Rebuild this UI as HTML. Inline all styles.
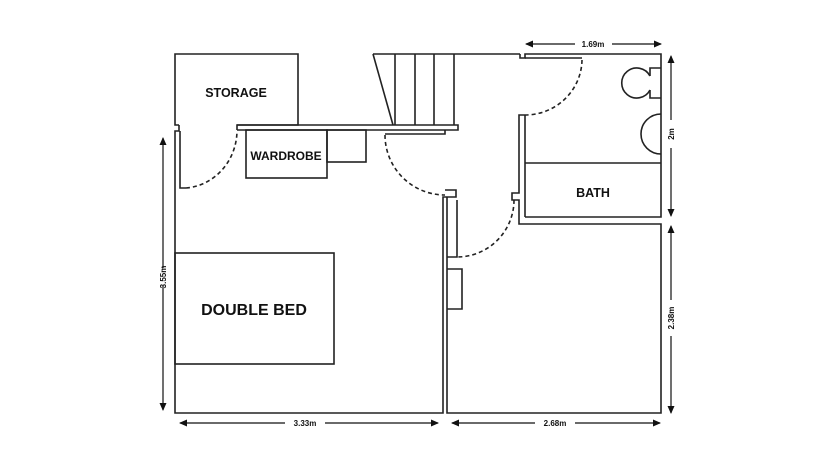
<!DOCTYPE html>
<html><head><style>body{margin:0;background:#fff}svg{display:block}text{font-family:"Liberation Sans",sans-serif;font-weight:bold;fill:#111}</style></head><body>
<svg width="835" height="467" viewBox="0 0 835 467" xmlns="http://www.w3.org/2000/svg">
<defs><marker id="a" markerWidth="8" markerHeight="8" refX="7" refY="4" orient="auto-start-reverse" markerUnits="userSpaceOnUse"><path d="M0,0.5 L8,4 L0,7.5 Z" fill="#111"/></marker></defs>
<g fill="none" stroke="#222" stroke-width="1.6">
<!-- storage -->
<polyline points="179,125 175,125 175,54 298,54 298,125 237,125 237,130"/>
<!-- bedroom outer -->
<polyline points="179,125 179,131 175,131 175,413 443,413 443,197 456,197 456,190 445,190"/>
<polyline points="180,131 180,188 186,188"/>
<path d="M186,188 A55,58 0 0 0 237,131" stroke-dasharray="4,3"/>
<!-- top wall -->
<polyline points="237,130 458,130 458,125 237,125"/>
<polyline points="445,130 445,134 385,134"/>
<path d="M385,135 A60,60 0 0 0 445,195" stroke-dasharray="4,3"/>
<!-- wardrobe -->
<rect x="246" y="130" width="81" height="48"/>
<rect x="327" y="130" width="39" height="32"/>
<!-- stairs -->
<polyline points="373,54 393,125"/>
<line x1="373" y1="54" x2="520" y2="54"/>
<line x1="395" y1="54" x2="395" y2="125"/>
<line x1="415" y1="54" x2="415" y2="125"/>
<line x1="434" y1="54" x2="434" y2="125"/>
<line x1="454" y1="54" x2="454" y2="125"/>
<!-- bathroom -->
<polyline points="520,54 520,58 525,58 525,54 661,54 661,217 525,217"/>
<line x1="525" y1="58" x2="582" y2="58"/>
<path d="M582,60 A57,56 0 0 1 525,115" stroke-dasharray="4,3"/>
<polyline points="525,115 519,115 519,193 512,193 512,200 519,200 519,224 661,224 661,413 447,413 447,197"/>
<line x1="525" y1="115" x2="525" y2="217"/>
<line x1="525" y1="163" x2="661" y2="163"/>
<path d="M514,200 A57,57 0 0 1 457,257" stroke-dasharray="4,3"/>
<polyline points="457,200 457,257 447,257"/>
<polyline points="447,269 462,269 462,309 447,309"/>
<!-- toilet -->
<path d="M650,90 A15,15 0 1 1 650,76" />
<polyline points="650,76 650,68 661,68"/>
<polyline points="650,90 650,98 661,98"/>
<path d="M661,114 A20,20 0 0 0 661,154"/>
<!-- bed -->
<rect x="175" y="253" width="159" height="111"/>
</g>
<g stroke="#111" stroke-width="1.2" fill="none">
<line x1="163" y1="268" x2="163" y2="138" marker-end="url(#a)"/>
<line x1="163" y1="286" x2="163" y2="410" marker-end="url(#a)"/>
<line x1="285" y1="423" x2="180" y2="423" marker-end="url(#a)"/>
<line x1="325" y1="423" x2="438" y2="423" marker-end="url(#a)"/>
<line x1="535" y1="423" x2="452" y2="423" marker-end="url(#a)"/>
<line x1="575" y1="423" x2="660" y2="423" marker-end="url(#a)"/>
<line x1="575" y1="44" x2="526" y2="44" marker-end="url(#a)"/>
<line x1="612" y1="44" x2="661" y2="44" marker-end="url(#a)"/>
<line x1="671" y1="120" x2="671" y2="56" marker-end="url(#a)"/>
<line x1="671" y1="148" x2="671" y2="216" marker-end="url(#a)"/>
<line x1="671" y1="300" x2="671" y2="226" marker-end="url(#a)"/>
<line x1="671" y1="336" x2="671" y2="413" marker-end="url(#a)"/>
</g>
<text x="236" y="97" font-size="12.5" text-anchor="middle">STORAGE</text>
<text x="286" y="160" font-size="12" text-anchor="middle">WARDROBE</text>
<text x="254" y="315" font-size="16" text-anchor="middle">DOUBLE BED</text>
<text x="593" y="197" font-size="12.5" text-anchor="middle">BATH</text>
<text x="305" y="426" font-size="8" text-anchor="middle">3.33m</text>
<text x="555" y="426" font-size="8" text-anchor="middle">2.68m</text>
<text x="593" y="47" font-size="8" text-anchor="middle">1.69m</text>
<text transform="translate(166,277) rotate(-90)" font-size="8" text-anchor="middle">3.55m</text>
<text transform="translate(674,134) rotate(-90)" font-size="8" text-anchor="middle">2m</text>
<text transform="translate(674,318) rotate(-90)" font-size="8" text-anchor="middle">2.38m</text>
</svg>
</body></html>
